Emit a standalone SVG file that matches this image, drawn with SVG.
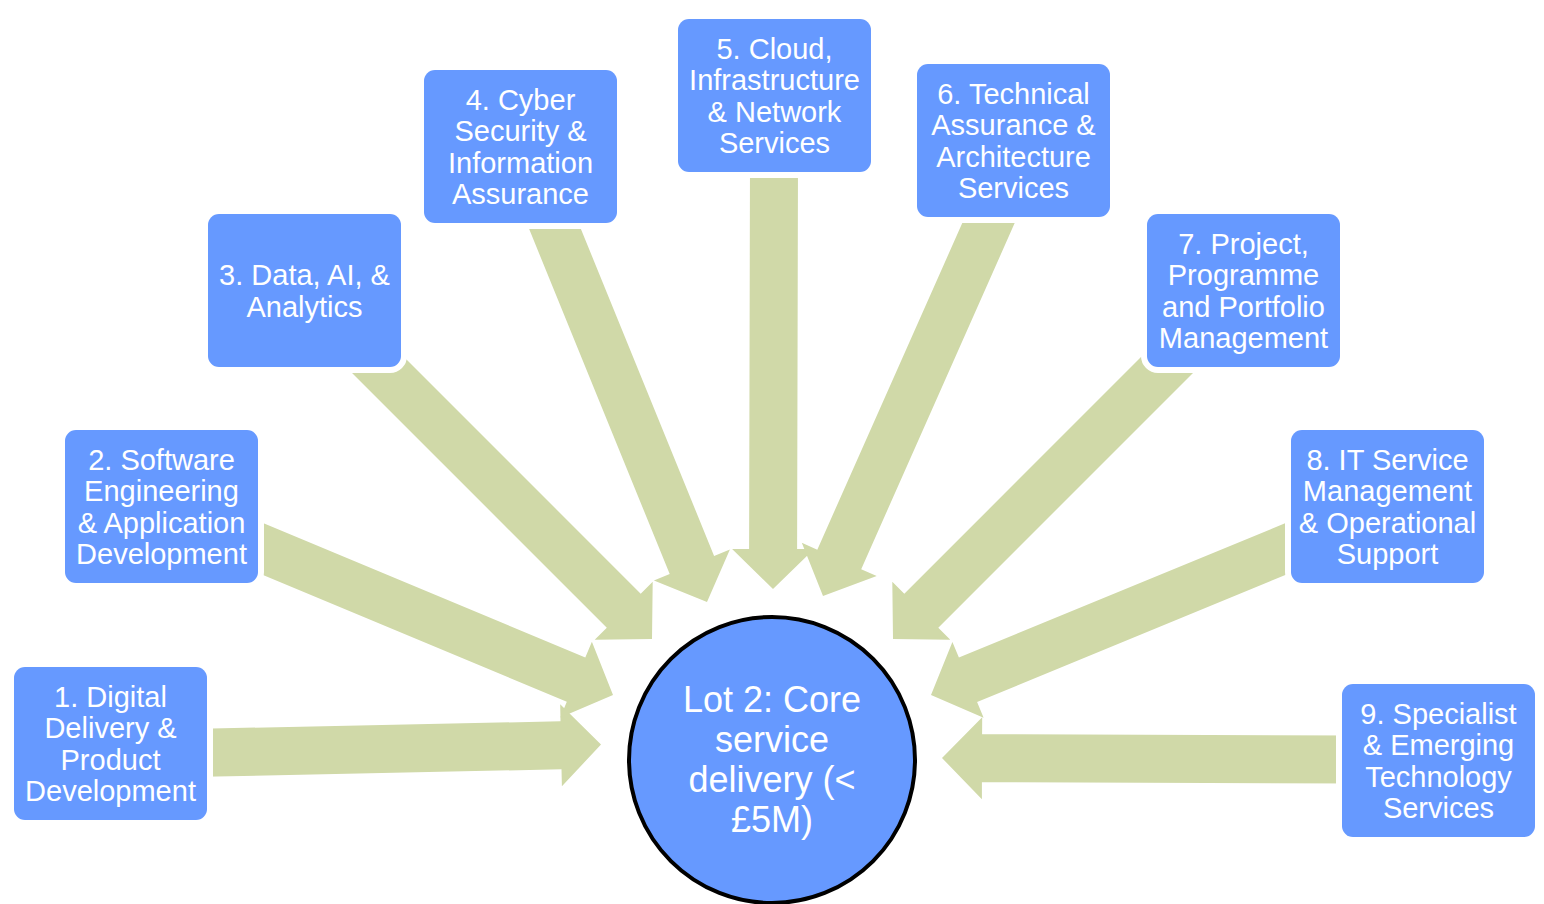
<svg xmlns="http://www.w3.org/2000/svg" width="1544" height="904" viewBox="0 0 1544 904">
<style>
.arrow{fill:#D0D9A8;stroke:none}
.box{fill:#6699FF;stroke:#FFFFFF;stroke-width:12;paint-order:stroke}
.lbl{font-family:"Liberation Sans",Arial,sans-serif;font-size:29px;fill:#FFFFFF;text-anchor:middle}
.hub{fill:#6699FF;stroke:#000000;stroke-width:4}
.hublbl{font-family:"Liberation Sans",Arial,sans-serif;font-size:36px;fill:#FFFFFF;text-anchor:middle}
</style>
<rect x="0" y="0" width="1544" height="904" fill="#FFFFFF"/>
<g id="connectors">
<polygon class="arrow" points="190.5,777 561.5,769.3 561.9,786.3 601,744.5 560.2,704.3 560.5,721.3 189.5,729"/>
<polygon class="arrow" points="230.8,561.6 566.8,701.8 560.3,717.4 613,695 591.9,641.8 585.3,657.5 249.2,517.3"/>
<polygon class="arrow" points="343,364 606.8,627.7 594.7,639.7 652,639 652.7,581.7 640.7,593.7 377,330"/>
<polygon class="arrow" points="525.1,219.1 669.7,574 653.9,580.4 707,602 729.9,549.5 714.1,555.9 569.5,201"/>
<polygon class="arrow" points="750,159.9 749.1,548.9 732.1,548.9 773,589 814.1,549.1 797.1,549.1 798,160.1"/>
<polygon class="arrow" points="974.6,195.3 817.3,549.7 801.8,542.8 823,596 876.7,576.1 861.2,569.2 1018.4,214.7"/>
<polygon class="arrow" points="1168,330 904.3,593.8 892.3,581.7 893,639 950.3,639.7 938.3,627.7 1202,364"/>
<polygon class="arrow" points="1295.9,518.8 958.9,657.6 952.4,641.9 931,695 983.6,717.7 977.1,702 1314.1,563.2"/>
<polygon class="arrow" points="1355.1,735.5 982.1,734.2 982.2,717.2 942,758 981.9,799.2 981.9,782.2 1354.9,783.5"/>
</g>
<g id="node1">
<rect class="box" x="14" y="667" width="193" height="153" rx="11"/>
<text class="lbl"><tspan x="110.5" y="706.6">1. Digital</tspan><tspan x="110.5" dy="31.5">Delivery &amp;</tspan><tspan x="110.5" dy="31.5">Product</tspan><tspan x="110.5" dy="31.5">Development</tspan></text>
</g>
<g id="node2">
<rect class="box" x="65" y="430" width="193" height="153" rx="11"/>
<text class="lbl"><tspan x="161.5" y="469.6">2. Software</tspan><tspan x="161.5" dy="31.5">Engineering</tspan><tspan x="161.5" dy="31.5">&amp; Application</tspan><tspan x="161.5" dy="31.5">Development</tspan></text>
</g>
<g id="node3">
<rect class="box" x="208" y="214" width="193" height="153" rx="11"/>
<text class="lbl"><tspan x="304.5" y="285.2">3. Data, AI, &amp;</tspan><tspan x="304.5" dy="31.5">Analytics</tspan></text>
</g>
<g id="node4">
<rect class="box" x="424" y="70" width="193" height="153" rx="11"/>
<text class="lbl"><tspan x="520.5" y="109.6">4. Cyber</tspan><tspan x="520.5" dy="31.5">Security &amp;</tspan><tspan x="520.5" dy="31.5">Information</tspan><tspan x="520.5" dy="31.5">Assurance</tspan></text>
</g>
<g id="node5">
<rect class="box" x="678" y="19" width="193" height="153" rx="11"/>
<text class="lbl"><tspan x="774.5" y="58.6">5. Cloud,</tspan><tspan x="774.5" dy="31.5">Infrastructure</tspan><tspan x="774.5" dy="31.5">&amp; Network</tspan><tspan x="774.5" dy="31.5">Services</tspan></text>
</g>
<g id="node6">
<rect class="box" x="917" y="64" width="193" height="153" rx="11"/>
<text class="lbl"><tspan x="1013.5" y="103.6">6. Technical</tspan><tspan x="1013.5" dy="31.5">Assurance &amp;</tspan><tspan x="1013.5" dy="31.5">Architecture</tspan><tspan x="1013.5" dy="31.5">Services</tspan></text>
</g>
<g id="node7">
<rect class="box" x="1147" y="214" width="193" height="153" rx="11"/>
<text class="lbl"><tspan x="1243.5" y="253.6">7. Project,</tspan><tspan x="1243.5" dy="31.5">Programme</tspan><tspan x="1243.5" dy="31.5">and Portfolio</tspan><tspan x="1243.5" dy="31.5">Management</tspan></text>
</g>
<g id="node8">
<rect class="box" x="1291" y="430" width="193" height="153" rx="11"/>
<text class="lbl"><tspan x="1387.5" y="469.6">8. IT Service</tspan><tspan x="1387.5" dy="31.5">Management</tspan><tspan x="1387.5" dy="31.5">&amp; Operational</tspan><tspan x="1387.5" dy="31.5">Support</tspan></text>
</g>
<g id="node9">
<rect class="box" x="1342" y="684" width="193" height="153" rx="11"/>
<text class="lbl"><tspan x="1438.5" y="723.6">9. Specialist</tspan><tspan x="1438.5" dy="31.5">&amp; Emerging</tspan><tspan x="1438.5" dy="31.5">Technology</tspan><tspan x="1438.5" dy="31.5">Services</tspan></text>
</g>
<g id="hub">
<circle class="hub" cx="772" cy="760" r="143"/>
<text class="hublbl"><tspan x="772" y="712">Lot 2: Core</tspan><tspan x="772" dy="40">service</tspan><tspan x="772" dy="40">delivery (&lt;</tspan><tspan x="772" dy="40">£5M)</tspan></text>
</g>
</svg>
